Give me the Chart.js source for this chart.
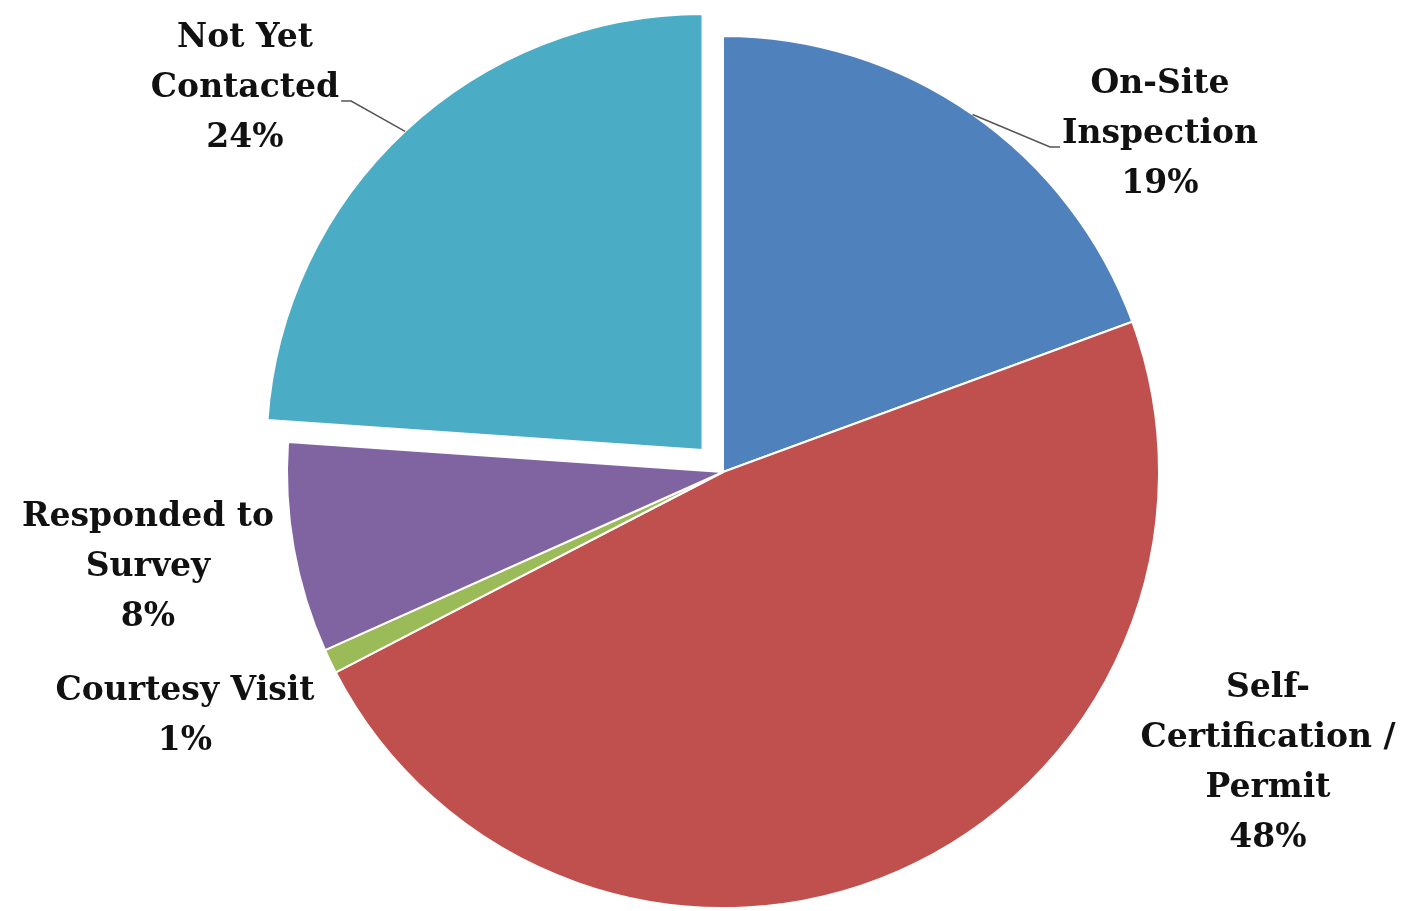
<!DOCTYPE html>
<html>
<head>
<meta charset="utf-8">
<script src="https://cdn.jsdelivr.net/npm/chart.js@4.4.0/dist/chart.umd.min.js"></script>
<style>
  html, body { margin: 0; background: #fff; }
  #wrap { width: 1405px; height: 911px; }
</style>
</head>
<body>
<div id="wrap"><canvas id="c" width="1405" height="911"></canvas></div>
<script>
/* global Chart */

var categories = ['On-Site Inspection', 'Self-Certification / Permit', 'Courtesy Visit', 'Responded to Survey', 'Not Yet Contacted']
var shares = [19.4, 48.0, 0.9, 7.8, 23.9]
var labelLines = [['On-Site', 'Inspection'], ['Self-', 'Certification /', 'Permit'], ['Courtesy Visit'], ['Responded to', 'Survey'], ['Not Yet', 'Contacted']]

var sliceColors = ['#4F81BD', '#C0504D', '#9BBB59', '#8064A2', '#4BACC6']
// pixels each slice is pulled out (chart.js moves an arc by offset / 4)
var pullOut = [0, 0, 0, 0, 30]
// first-line centre of each label, relative to pie centre; last flag = leader line
var labelSpots = [[437, -388, true], [545, 216, false], [-538, 219, false], [-575, 45, false], [-478, -434, true]]
var lineGap = 50
var labelFont = 'bold 33px "DejaVu Serif", serif'

var pieLabels = {
  id: 'pieLabels',
  afterDatasetsDraw (chart) {
    var ctx = chart.ctx
    var meta = chart.getDatasetMeta(0)
    var total = shares.reduce((a, b) => a + b, 0)
    ctx.save()
    ctx.font = labelFont
    ctx.fillStyle = '#111'
    ctx.textAlign = 'center'
    ctx.textBaseline = 'middle'
    meta.data.forEach((arc, i) => {
      var p = arc.getProps(['x', 'y', 'startAngle', 'endAngle', 'outerRadius'])
      var spot = labelSpots[i]
      var lx = p.x + spot[0]
      var ly = p.y + spot[1]
      var lines = labelLines[i].concat([Math.round(shares[i] / total * 100) + '%'])
      lines.forEach((t, k) => ctx.fillText(t, lx, ly + k * lineGap))
      if (spot[2]) {
        var mid = (p.startAngle + p.endAngle) / 2
        var r = p.outerRadius + pullOut[i]
        var ex = p.x + Math.cos(mid) * r
        var ey = p.y + Math.sin(mid) * r
        var w = ctx.measureText(lines[1]).width
        var side = ex > lx ? 1 : -1
        var sx = lx + side * (w / 2 + 2)
        var sy = ly + lineGap + 13
        ctx.strokeStyle = '#555'
        ctx.lineWidth = 1.5
        ctx.beginPath()
        ctx.moveTo(sx, sy)
        ctx.lineTo(sx + side * 10, sy)
        ctx.lineTo(ex, ey)
        ctx.stroke()
      }
    })
    ctx.restore()
  }
}

new Chart(document.getElementById('c').getContext('2d'), {
  type: 'pie',
  data: {
    labels: categories,
    datasets: [{
      data: shares,
      backgroundColor: sliceColors,
      borderColor: '#fff',
      borderWidth: 2,
      offset: pullOut.map(v => v * 4)
    }]
  },
  options: {
    responsive: false,
    animation: false,
    radius: 436,
    layout: { padding: { left: 41, top: 33 } },
    plugins: { legend: { display: false }, tooltip: { enabled: false } }
  },
  plugins: [pieLabels]
})
</script>
</body>
</html>
